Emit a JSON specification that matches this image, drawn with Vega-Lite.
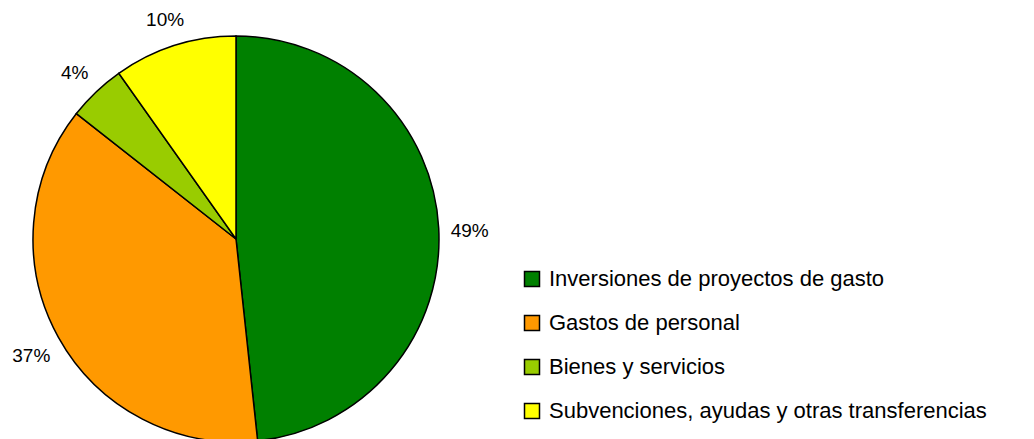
{
  "$schema": "https://vega.github.io/schema/vega-lite/v6.json",
  "width": 472,
  "height": 478,
  "autosize": {"type": "none"},
  "padding": {"left": 0, "top": 0, "right": 562, "bottom": 0},
  "background": "white",
  "config": {"view": {"stroke": null}, "font": "Liberation Sans"},
  "data": {
    "values": [
      {"cat": "Inversiones de proyectos de gasto", "v": 48.3, "label": "49%", "o": 1},
      {"cat": "Gastos de personal", "v": 37.3, "label": "37%", "o": 2},
      {"cat": "Bienes y servicios", "v": 4.6, "label": "4%", "o": 3},
      {"cat": "Subvenciones, ayudas y otras transferencias", "v": 9.8, "label": "10%", "o": 4}
    ]
  },
  "encoding": {
    "theta": {"field": "v", "type": "quantitative", "stack": true},
    "order": {"field": "o", "type": "quantitative"}
  },
  "layer": [
    {
      "mark": {"type": "arc", "outerRadius": 203, "stroke": "black", "strokeWidth": 1.5},
      "encoding": {
        "color": {
          "field": "cat",
          "type": "nominal",
          "scale": {
            "domain": ["Inversiones de proyectos de gasto", "Gastos de personal", "Bienes y servicios", "Subvenciones, ayudas y otras transferencias"],
            "range": ["#008000", "#FF9900", "#99CC00", "#FFFF00"]
          },
          "legend": {
            "title": null,
            "orient": "none",
            "legendX": 521,
            "legendY": 268,
            "symbolType": "square",
            "symbolSize": 225,
            "symbolStrokeColor": "black",
            "symbolStrokeWidth": 1.5,
            "symbolOpacity": 1,
            "labelFont": "Liberation Sans",
            "labelFontSize": 22,
            "labelColor": "black",
            "labelLimit": 600,
            "labelOffset": 6,
            "rowPadding": 22
          }
        }
      }
    },
    {
      "mark": {"type": "text", "radius": 234, "dy": 4, "fontSize": 19, "font": "Liberation Sans", "color": "black"},
      "encoding": {"text": {"field": "label"}}
    }
  ]
}
